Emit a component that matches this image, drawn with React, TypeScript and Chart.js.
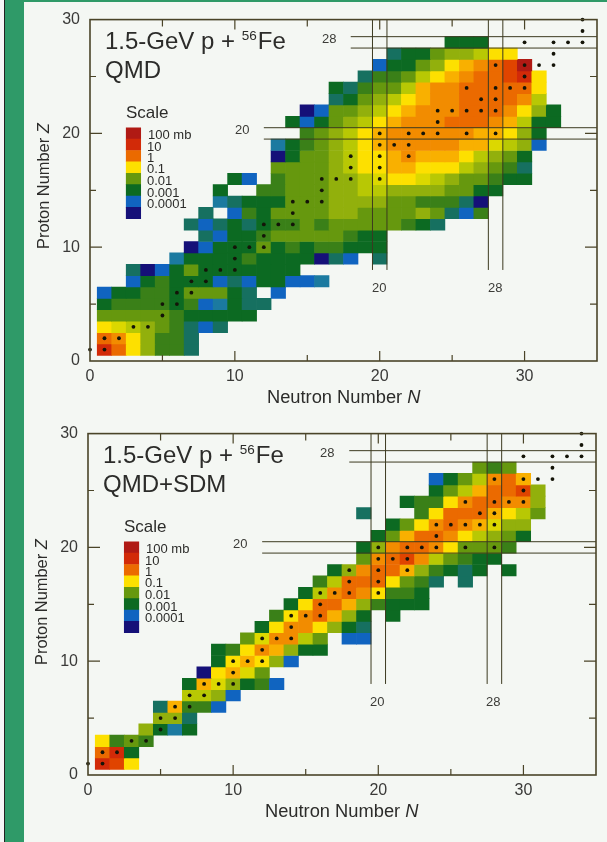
import React, { useEffect, useRef } from "react";
import { Chart, registerables } from "chart.js";

Chart.register(...registerables);

const FONT = '"Liberation Sans", Arial, sans-serif';
const INK = "#2c2c2a";
const AXIS = "#4a4428";

// Cross-section level codes, a (lowest) to q (highest); '.' = no cell.
const levelColors: Record<string, string> = {
  a: "#151078", b: "#1064c0", c: "#1b7aa0", d: "#167060", e: "#0c6a22",
  f: "#3a8018", g: "#66980e", h: "#92b00c", i: "#b8c804", j: "#dcd800",
  k: "#fde000", l: "#f9b000", m: "#f28c00", n: "#eb6a00", o: "#e04400",
  p: "#d22a08", q: "#b01a14",
};

// One entry per proton number Z = 1, 2, ...: first neutron number and levels from there.
const qmdStartN = [1, 1, 1, 1, 1, 1, 3, 3, 6, 7, 8, 7, 8, 9, 9, 10, 13, 13, 13, 15, 14, 15, 17, 17, 19, 20, 21, 25];
const qmdLevels = [
  "pnkhffd", "nmkhffd", "kjihgfdbd", "gggggfeeeee", "effffefbcedd", "beeffeggged.b",
  "befeeebdbeebbc", "dabegeeeeeee", "ceeeefeeeeadb.d", "abeeegefeffeee",
  "dbeefgggggfee", "dbdedeffgfgggggfed", "d.bfegggghhgggghgdbf", "cdeeeggghhhhggfffda",
  "e..ffggghhiihhhhggee", "eb.fggghhijkkjihggfee", "gggghikkllkkkihgfd",
  "aegghikklmlllkihge", "cefghiklmmmmmlljihb", "fghiklmmmmmmllkhe",
  "ebeghiklmmmnnnmliee", "abgghiklmmmnnnmkhe", "deghiklmmnnnnmi", "edfggilmmnnnnnk",
  "dffgiklmnnopk", "beeghklmnoq", "deeghhikk", "eee",
];

const sdmStartN = [1, 1, 1, 4, 5, 5, 7, 7, 8, 9, 9, 11, 12, 13, 14, 15, 16, 17, 19, 19, 20, 21, 19, 22, 24, 24, 27];
const sdmLevels = [
  "pok", "npe", "kfgf", "hece", "hhd", "dlffb", "iihb", "eljhefb", "akljg", "eklkhb",
  "efkmlhee", "gjmmig.bb", "ekmmkhed", "fkmnlhe.e", "eknnlhfeee", "eimnmkffe",
  "finnnkgfd.d", "ehmnnlhfede.e", "gmnomigfee", "ehmnnmkgggf", "eglnnmkihge",
  "egkmnmljhh", "d...fknnnlkig", "effkmnnmmh", "egilnnoh", "begimnl", "gfg",
];

// Stable nuclei: neutron numbers for each Z = 1, 2, ...
const stableN = [
  [0, 1], [1, 2], [3, 4], [5], [5, 6], [6, 7], [7, 8], [8, 9, 10], [10], [10, 11, 12],
  [12], [12, 13, 14], [14], [14, 15, 16], [16], [16, 17, 18, 20], [18, 20], [18, 20, 22],
  [20, 21, 22], [20, 22, 23, 24, 26, 28], [24], [24, 25, 26, 27, 28], [27, 28],
  [26, 28, 29, 30], [30], [28, 30, 31, 32], [32], [30, 32, 33, 34], [34], [34],
];

// Magic-number bands
const magicNBands = [19.5, 20.5, 27.5, 28.5];
const magicZBands = [19.5, 20.5, 27.5, 28.5];
const magicNFromZ = 8;
const magicZFromN = [12, 12, 18, 18];

const scaleLabels = ["100 mb", "10", "1", "0.1", "0.01", "0.001", "0.0001"];
const scaleCodes = ["q", "p", "n", "k", "g", "e", "b", "a"];
const scaleColumnN = 3;
const scaleTopZ = 20;

function cellsFrom(startN: number[], levels: string[]) {
  const out: { x: number; y: [number, number]; code: string }[] = [];
  levels.forEach((row, r) => {
    const z = r + 1;
    [...row].forEach((code, i) => {
      if (code !== ".") out.push({ x: startN[r] + i, y: [z - 0.5, z + 0.5], code });
    });
  });
  return out;
}

function tickSet(ctx: CanvasRenderingContext2D, a: any) {
  const { left, right, top, bottom } = a.chartArea;
  const { x, y } = a.scales;
  ctx.strokeStyle = AXIS;
  ctx.lineWidth = 1.2;
  ctx.beginPath();
  for (let v = 5; v < 35; v += 5) {
    const px = x.getPixelForValue(v);
    const major = v % 10 === 0;
    ctx.moveTo(px, bottom);
    ctx.lineTo(px, bottom - (major ? 10 : 6));
    ctx.moveTo(px, top);
    ctx.lineTo(px, top + (major ? 10 : 7));
  }
  for (let v = 5; v < 30; v += 5) {
    const py = y.getPixelForValue(v);
    const major = v % 10 === 0;
    ctx.moveTo(left, py);
    ctx.lineTo(left + (major ? 12 : 6), py);
    ctx.moveTo(right, py);
    ctx.lineTo(right - (major ? 12 : 7), py);
  }
  ctx.stroke();
  ctx.lineWidth = 1.6;
  ctx.strokeRect(left, top, right - left, bottom - top);
}

function labelsPlugin(subtitle: string) {
  return {
    id: "labels",
    afterDatasetsDraw(chart: any) {
      const ctx: CanvasRenderingContext2D = chart.ctx;
      const { left } = chart.chartArea;
      const dx = left - 90;
      ctx.save();
      tickSet(ctx, chart);
      ctx.fillStyle = INK;
      ctx.textBaseline = "alphabetic";
      ctx.textAlign = "left";

      ctx.font = `24px ${FONT}`;
      ctx.fillText("1.5-GeV p + ", 105 + dx, 49);
      const w = ctx.measureText("1.5-GeV p + ").width;
      ctx.font = `13.5px ${FONT}`;
      ctx.fillText("56", 105 + dx + w, 40);
      const w2 = ctx.measureText("56").width;
      ctx.font = `24px ${FONT}`;
      ctx.fillText("Fe", 105 + dx + w + w2 + 1, 49);
      ctx.fillText(subtitle, 105 + dx, 78);

      ctx.font = `17px ${FONT}`;
      ctx.fillText("Scale", 126 + dx, 118);
      ctx.font = `13px ${FONT}`;
      const base = [139, 151, 162, 173, 185, 197, 208];
      scaleLabels.forEach((t, i) => ctx.fillText(t, (i === 0 ? 148 : 147) + dx, base[i]));

      ctx.font = `13px ${FONT}`;
      ctx.fillStyle = "#3c3c38";
      ctx.fillText("28", 322 + dx, 43);
      ctx.fillText("20", 235 + dx, 134);
      ctx.fillText("20", 372 + dx, 292);
      ctx.fillText("28", 488 + dx, 292);

      ctx.fillStyle = INK;
      ctx.font = `18.3px ${FONT}`;
      const neu = "Neutron Number ";
      const nw = ctx.measureText(neu).width;
      ctx.fillText(neu, 267 + dx, 403);
      ctx.font = `italic 18.3px ${FONT}`;
      ctx.fillText("N", 267 + dx + nw, 403);

      ctx.translate(49 + dx, 249 - dx);
      ctx.rotate(-Math.PI / 2);
      ctx.font = `16.4px ${FONT}`;
      const pro = "Proton Number ";
      const pw = ctx.measureText(pro).width;
      ctx.fillText(pro, 0, 0);
      ctx.font = `italic 16.4px ${FONT}`;
      ctx.fillText("Z", pw, 0);
      ctx.restore();
    },
  };
}

function buildConfig(startN: number[], levels: string[], left: number, right: number, subtitle: string): any {
  const cells = cellsFrom(startN, levels);
  const scaleCells = scaleCodes.map((code, i) => ({
    x: scaleColumnN,
    y: [scaleTopZ - i - 0.5, scaleTopZ - i + 0.5],
    code,
  }));
  const bands: any[] = [];
  magicNBands.forEach((n) =>
    bands.push({
      type: "line",
      data: [{ x: n, y: magicNFromZ }, { x: n, y: 30 }],
      borderColor: "#3c3a20",
      borderWidth: 1,
      pointRadius: 0,
      order: 1,
    })
  );
  magicZBands.forEach((z, i) =>
    bands.push({
      type: "line",
      data: [{ x: magicZFromN[i], y: z }, { x: 35, y: z }],
      borderColor: "#3c3a20",
      borderWidth: 1,
      pointRadius: 0,
      order: 1,
    })
  );
  const dots = stableN.flatMap((ns, r) => ns.map((n) => ({ x: n, y: r + 1 })));
  const barThickness = (right - left) / 35;
  return {
    type: "bar",
    data: {
      datasets: [
        { type: "scatter", data: dots, backgroundColor: "#141408", pointRadius: 1.9, borderWidth: 0, clip: false, order: 0 },
        ...bands,
        {
          type: "bar", data: cells, backgroundColor: cells.map((c) => levelColors[c.code]),
          grouped: false, barThickness, order: 2,
        },
        {
          type: "bar", data: scaleCells, backgroundColor: scaleCells.map((c) => levelColors[c.code]),
          grouped: false, barThickness, order: 2,
        },
      ],
    },
    options: {
      responsive: false,
      animation: false,
      events: [],
      layout: { padding: { left: 0, top: 16, right: 607 - right, bottom: 0 } },
      plugins: { legend: { display: false }, tooltip: { enabled: false }, title: { display: false } },
      scales: {
        x: {
          type: "linear", min: 0, max: 35, offset: false,
          grid: { display: false, drawTicks: false },
          border: { display: false },
          afterFit: (s: any) => { s.height = 414 - 361; },
          ticks: {
            stepSize: 5, autoSkip: false, maxRotation: 0, padding: 6, color: "#3a3a38",
            font: { family: FONT, size: 16 },
            callback: (v: number) => (v % 10 === 0 && v <= 30 ? String(v) : null),
          },
        },
        y: {
          type: "linear", min: 0, max: 30,
          grid: { display: false, drawTicks: false },
          border: { display: false },
          afterFit: (s: any) => { s.width = left; },
          ticks: {
            stepSize: 5, autoSkip: false, padding: 10, color: "#3a3a38",
            font: { family: FONT, size: 16 },
            callback: (v: number) => (v % 10 === 0 ? String(v) : null),
          },
        },
      },
    },
    plugins: [labelsPlugin(subtitle)],
  };
}

function Panel({ top, startN, levels, left, right, subtitle }: any) {
  const ref = useRef<HTMLCanvasElement>(null);
  useEffect(() => {
    const chart = new Chart(ref.current!, buildConfig(startN, levels, left, right, subtitle));
    return () => chart.destroy();
  }, []);
  return (
    <canvas
      ref={ref}
      width={607}
      height={414}
      style={{ position: "absolute", left: 0, top, width: 607, height: 414, display: "block", filter: "blur(0.5px)" }}
    />
  );
}

export default function App() {
  useEffect(() => {
    document.body.style.margin = "0";
    document.body.style.background = "#f4f7f3";
  }, []);
  return (
    <div style={{ position: "relative", width: 607, height: 842, overflow: "hidden", background: "#f4f7f3" }}>
      <Panel top={0} startN={qmdStartN} levels={qmdLevels} left={90} right={597} subtitle="QMD" />
      <Panel top={414} startN={sdmStartN} levels={sdmLevels} left={88} right={596} subtitle="QMD+SDM" />
      <div style={{ position: "absolute", left: 0, top: 0, width: 4, height: 842, background: "#f6f6f6" }} />
      <div style={{ position: "absolute", left: 4, top: 0, width: 1.5, height: 842, background: "#222" }} />
      <div style={{ position: "absolute", left: 5, top: 0, width: 19, height: 842, background: "#2f9a68" }} />
      <div style={{ position: "absolute", left: 5, top: 0, width: 602, height: 2, background: "#2f9a68" }} />
    </div>
  );
}
